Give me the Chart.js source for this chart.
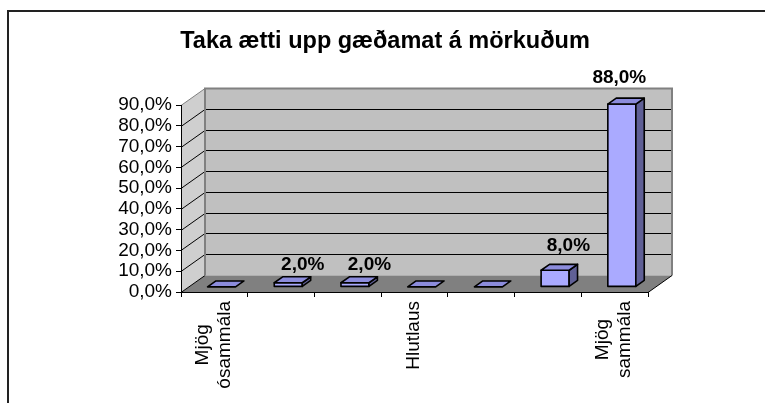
<!DOCTYPE html>
<html>
<head>
<meta charset="utf-8">
<script src="https://cdn.jsdelivr.net/npm/chart.js@4.4.0/dist/chart.umd.min.js"></script>
<style>
  html, body { margin: 0; padding: 0; background: #fff; }
  #wrap { width: 765px; height: 403px; }
</style>
</head>
<body>
<div id="wrap"><canvas id="chart" width="765" height="403"></canvas></div>
<script>
const categories = [["Mjög", "ósammála"], "", "", "Hlutlaus", "", "", ["Mjög", "sammála"]];
const percentages = [0, 2, 2, 0, 0, 8, 88];
const yTicks = [0, 10, 20, 30, 40, 50, 60, 70, 80, 90];
const chartTitle = "Taka ætti upp gæðamat á mörkuðum";

const FONT = "Arial, 'Liberation Sans', sans-serif";
const DEPTH = { x: 24, y: -17 };      // depth of the 3d box
const BAR_FRONT = 0.3, BAR_BACK = 0.65; // bar position inside the depth

function pct(v) {
  return v.toFixed(1).replace(".", ",") + "%";
}

function poly(ctx, pts, fill, stroke, lw) {
  ctx.beginPath();
  ctx.moveTo(pts[0][0], pts[0][1]);
  for (let i = 1; i < pts.length; i++) ctx.lineTo(pts[i][0], pts[i][1]);
  ctx.closePath();
  if (fill) { ctx.fillStyle = fill; ctx.fill(); }
  if (stroke) { ctx.strokeStyle = stroke; ctx.lineWidth = lw || 1; ctx.stroke(); }
}

function line(ctx, x1, y1, x2, y2, color, lw) {
  ctx.beginPath();
  ctx.moveTo(x1, y1);
  ctx.lineTo(x2, y2);
  ctx.strokeStyle = color;
  ctx.lineWidth = lw || 1;
  ctx.stroke();
}

// frame, title, walls and floor (drawn before the axes)
const walls3d = {
  id: "walls3d",
  beforeDraw(chart) {
    const ctx = chart.ctx;
    const ys = chart.scales.y;
    const { left, right } = chart.chartArea;
    const y0 = Math.round(ys.getPixelForValue(0)) + 0.5;
    const yTop = Math.round(ys.getPixelForValue(yTicks[yTicks.length - 1])) + 0.5;
    const dx = DEPTH.x, dy = DEPTH.y;
    ctx.save();

    // outer frame
    ctx.strokeStyle = "#222";
    ctx.lineWidth = 2;
    ctx.beginPath();
    ctx.moveTo(8, chart.height);
    ctx.lineTo(8, 11);
    ctx.lineTo(chart.width, 11);
    ctx.stroke();

    // title
    ctx.font = "bold 23.5px " + FONT;
    ctx.fillStyle = "#000";
    ctx.textAlign = "center";
    ctx.textBaseline = "middle";
    ctx.fillText(chartTitle, 385, 42);

    // back wall
    poly(ctx, [[left + dx, yTop + dy], [right + dx, yTop + dy], [right + dx, y0 + dy], [left + dx, y0 + dy]], "#c0c0c0");
    // side wall
    poly(ctx, [[left, yTop], [left + dx, yTop + dy], [left + dx, y0 + dy], [left, y0]], "#cfcfcf");
    // floor
    poly(ctx, [[left, y0], [right, y0], [right + dx, y0 + dy], [left + dx, y0 + dy]], "#808080");

    // gridlines on back wall and side wall
    yTicks.forEach(v => {
      const y = Math.round(ys.getPixelForValue(v)) + 0.5;
      const top = v === yTicks[yTicks.length - 1];
      if (v > 0 && !top) line(ctx, left + dx, y + dy, right + dx, y + dy, "#000", 1);
      line(ctx, left, y, left + dx, y + dy, top ? "#808080" : "#000", 1);
    });

    // wall edges
    ctx.strokeStyle = "#808080";
    ctx.lineWidth = 2;
    ctx.beginPath();
    ctx.moveTo(left + dx, y0 + dy);
    ctx.lineTo(left + dx, yTop + dy);
    ctx.lineTo(right + dx, yTop + dy);
    ctx.lineTo(right + dx, y0 + dy);
    ctx.stroke();

    // floor right edge
    line(ctx, right, y0, right + dx, y0 + dy, "#000", 1);
    ctx.restore();
  }
};

// 3d bars and value labels
const bars3d = {
  id: "bars3d",
  afterDatasetsDraw(chart) {
    const ctx = chart.ctx;
    const meta = chart.getDatasetMeta(0);
    const fx = DEPTH.x * BAR_FRONT, fy = DEPTH.y * BAR_FRONT;
    const sx = DEPTH.x * (BAR_BACK - BAR_FRONT), sy = DEPTH.y * (BAR_BACK - BAR_FRONT);
    ctx.save();
    ctx.lineJoin = "round";
    meta.data.forEach((bar, i) => {
      const { x, y, base, width } = bar.getProps(["x", "y", "base", "width"], true);
      const x1 = x - width / 2 + fx, x2 = x + width / 2 + fx;
      const yt = y + fy, yb = base + fy;
      if (yb - yt > 0.5) {
        poly(ctx, [[x1, yt], [x2, yt], [x2, yb], [x1, yb]], "#aaaaff", "#000", 1.6);
        poly(ctx, [[x2, yt], [x2 + sx, yt + sy], [x2 + sx, yb + sy], [x2, yb]], "#606096", "#000", 1.6);
      }
      poly(ctx, [[x1, yt], [x2, yt], [x2 + sx, yt + sy], [x1 + sx, yt + sy]], "#8c8cdc", "#000", 1.6);

      const v = percentages[i];
      if (v > 0) {
        const h = base - y;
        ctx.font = "bold 19px " + FONT;
        ctx.fillStyle = "#000";
        ctx.textAlign = "center";
        ctx.textBaseline = "bottom";
        const gap = Math.min(14, 4 + h * 0.5);
        ctx.fillText(pct(v), x + 22 - h * 0.095, yt + sy - gap + 3);
      }
    });
    ctx.restore();
  }
};

// category labels, rotated, lines centred inside the block
const xLabels = {
  id: "xLabels",
  afterDraw(chart) {
    const ctx = chart.ctx;
    const xs = chart.scales.x;
    const top = chart.chartArea.bottom + 9;
    const lh = 22;
    ctx.save();
    ctx.font = "19px " + FONT;
    ctx.fillStyle = "#000";
    ctx.textAlign = "center";
    ctx.textBaseline = "middle";
    categories.forEach((lab, i) => {
      const lines = Array.isArray(lab) ? lab : [lab];
      if (!lines.join("")) return;
      const maxW = Math.max(...lines.map(s => ctx.measureText(s).width));
      const cx = xs.getPixelForTick(i) - 1;
      const cy = top + maxW / 2;
      ctx.save();
      ctx.translate(cx, cy);
      ctx.rotate(-Math.PI / 2);
      lines.forEach((s, k) => {
        ctx.fillText(s, 0, (k - (lines.length - 1) / 2) * lh);
      });
      ctx.restore();
    });
    ctx.restore();
  }
};

new Chart(document.getElementById("chart"), {
  type: "bar",
  data: {
    labels: categories,
    datasets: [{
      data: percentages,
      backgroundColor: "rgba(0,0,0,0)",
      borderWidth: 0,
      barPercentage: 0.42,
      categoryPercentage: 1
    }]
  },
  options: {
    responsive: false,
    animation: false,
    layout: { padding: { left: 0, right: 117, top: 105, bottom: 0 } },
    plugins: {
      legend: { display: false },
      tooltip: { enabled: false },
      title: { display: false }
    },
    scales: {
      x: {
        grid: { drawOnChartArea: false, drawTicks: true, tickLength: 5, color: "#000", offset: true },
        border: { color: "#000", width: 1 },
        ticks: { display: false },
        afterFit(scale) { scale.height = 111; }
      },
      y: {
        min: 0,
        max: 90,
        afterBuildTicks(scale) { scale.ticks = yTicks.map(v => ({ value: v })); },
        grid: { drawOnChartArea: false, drawTicks: true, tickLength: 5, color: "#000" },
        border: { color: "#000", width: 1 },
        ticks: {
          color: "#000",
          padding: 4,
          autoSkip: false,
          font: { family: FONT, size: 19 },
          callback: v => pct(v)
        },
        afterFit(scale) { scale.width = 181; }
      }
    }
  },
  plugins: [walls3d, bars3d, xLabels]
});
</script>
</body>
</html>
